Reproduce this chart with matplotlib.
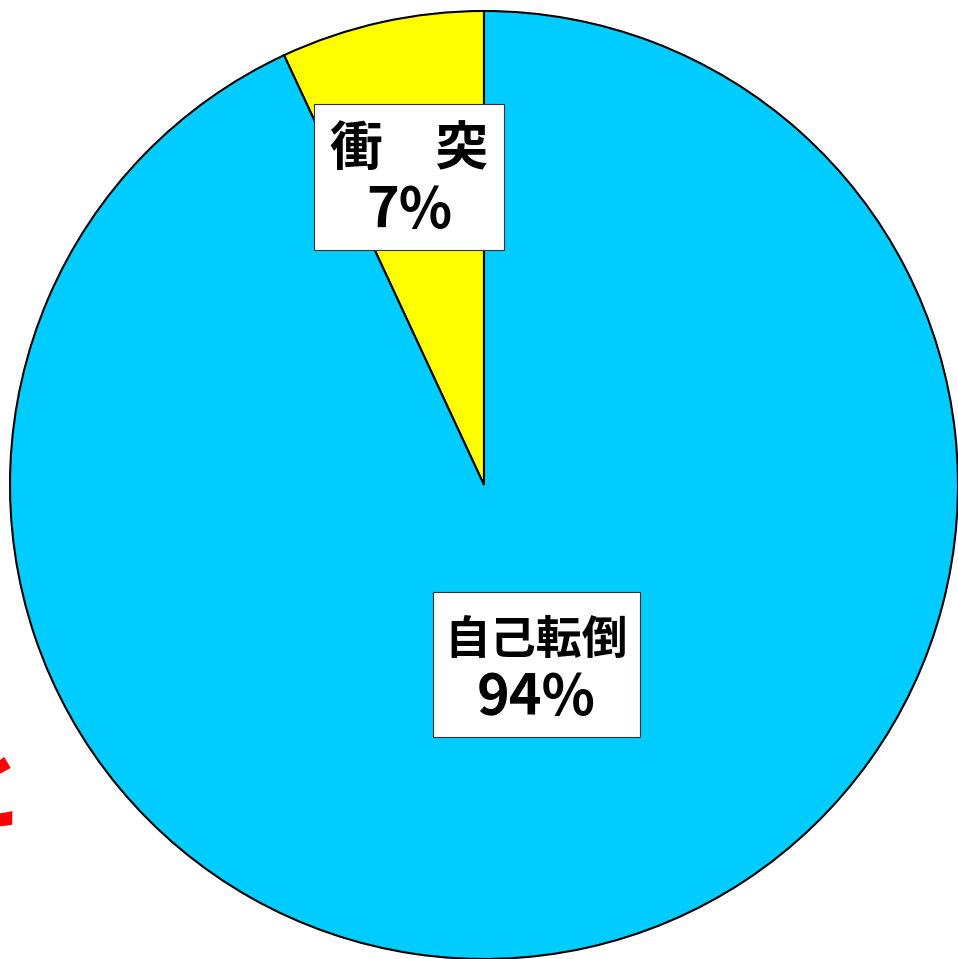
import matplotlib.pyplot as plt
from matplotlib.patches import Rectangle

plt.rcParams['font.family'] = ['Noto Sans CJK JP', 'DejaVu Sans']

# accident types
labels = ['衝　突', '自己転倒']
shares = [7, 94]
colors = ['#FFFF00', '#00CCFF']

fig = plt.figure(figsize=(9.58, 9.59), dpi=100)
ax = fig.add_axes([0, 0, 1, 1])
ax.pie(shares, colors=colors, startangle=90, counterclock=True, radius=1,
       wedgeprops=dict(edgecolor='black', linewidth=1.5))
ax.set_xlim(-484 / 474, 474 / 474)
ax.set_ylim(-474 / 474, 485 / 474)
ax.set_aspect('equal')
ax.axis('off')

# label boxes (figure pixel coords, origin top-left), name size, value size
boxes = [(314, 104, 190, 146, 149, 211, 38, 40),
         (433, 592, 207, 145, 641, 698, 33, 40)]
W, H = 958, 959
for (lab, val), (x0, y0, w, h, y1, y2, s1, s2) in zip(zip(labels, shares), boxes):
    fig.patches.append(Rectangle((x0 / W, 1 - (y0 + h) / H), w / W, h / H,
                                 transform=fig.transFigure, facecolor='white',
                                 edgecolor='#333333', linewidth=0.8, zorder=5))
    cx = (x0 + w / 2) / W
    fig.text(cx, 1 - y1 / H, lab, ha='center', va='center', fontsize=s1,
             fontweight='bold', zorder=6)
    fig.text(cx, 1 - y2 / H, f'{val}%', ha='center', va='center', fontsize=s2,
             fontweight='bold', zorder=6)

# red caption cut off at the left edge
fig.text(26 / W, 1 - 795 / H, 'と', ha='right', va='center', fontsize=68,
         fontweight='bold', color='red')

fig.savefig('out.png', dpi=100)
